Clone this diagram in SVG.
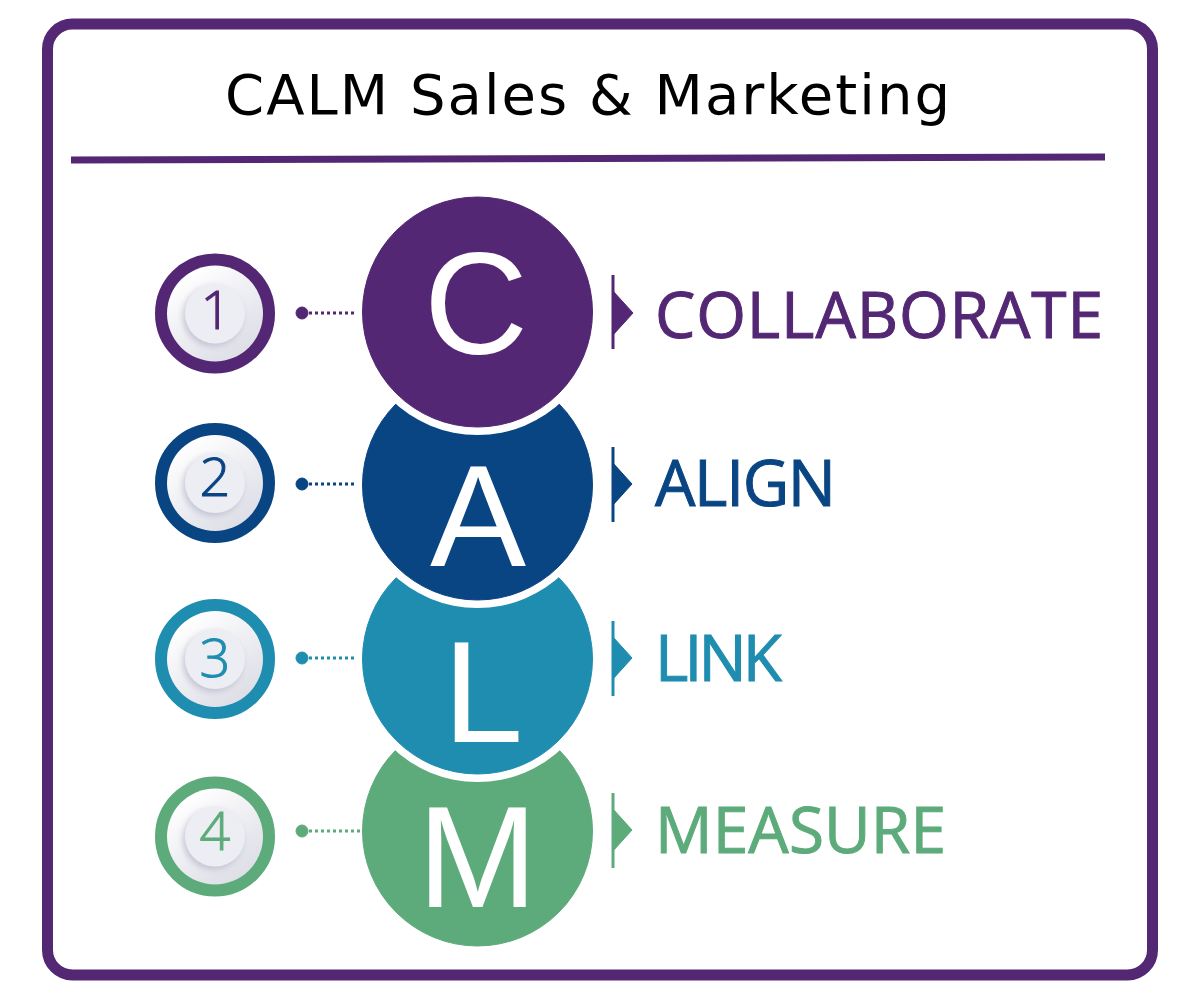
<svg xmlns="http://www.w3.org/2000/svg" width="1200" height="1000" viewBox="0 0 1200 1000">
  <style>
    .title { font-family: "DejaVu Sans", "Open Sans", sans-serif; font-size: 56px; fill: #000; }
    .big { font-family: "Liberation Sans", Arial, sans-serif; font-size: 144px; fill: #fff; text-anchor: middle; }
    .lbl { font-family: "Open Sans", "Liberation Sans", sans-serif; font-size: 64px; }
    .num { font-family: "Open Sans", "Liberation Sans", sans-serif; font-size: 54px; font-weight: 300; text-anchor: middle; }
    .halo { fill: #fff; }
    .disc { fill: url(#discGrad); }
    .inner { fill: #eceef3; filter: url(#sh); }
    .dots { stroke-width: 3; stroke-dasharray: 3 3; fill: none; }
    .bar { stroke-width: 3; }
    .c1 { fill: #532773; stroke: #532773; }
    .c2 { fill: #0a4583; stroke: #0a4583; }
    .c3 { fill: #1f8db0; stroke: #1f8db0; }
    .c4 { fill: #5dab7a; stroke: #5dab7a; }
  </style>
  <defs>
    <linearGradient id="discGrad" x1="0.2" y1="0.1" x2="0.8" y2="0.95">
      <stop offset="0" stop-color="#ffffff"/>
      <stop offset="1" stop-color="#dcdde6"/>
    </linearGradient>
    <filter id="sh" x="-30%" y="-30%" width="160%" height="160%">
      <feDropShadow dx="-2" dy="3" stdDeviation="3" flood-color="#b9bacb" flood-opacity="0.8"/>
    </filter>
  </defs>

  <rect x="47.5" y="24" width="1105" height="951" rx="25" fill="#fff" stroke="#532773" stroke-width="11"/>
  <g id="title">
    <text class="title" x="225" y="114" textLength="725">CALM Sales &amp; Marketing</text>
    <line x1="71" y1="160" x2="1105" y2="157" stroke="#532773" stroke-width="7"/>
  </g>

  <g id="connectors">
    <circle cx="302" cy="313" r="6" class="c1" stroke="none"/>
    <line x1="309" y1="313" x2="364" y2="313" class="dots c1"/>
    <circle cx="302" cy="484" r="6" class="c2" stroke="none"/>
    <line x1="309" y1="484" x2="364" y2="484" class="dots c2"/>
    <circle cx="302" cy="658" r="6" class="c3" stroke="none"/>
    <line x1="309" y1="658" x2="364" y2="658" class="dots c3"/>
    <circle cx="302" cy="831" r="6" class="c4" stroke="none"/>
    <line x1="309" y1="831" x2="364" y2="831" class="dots c4"/>
  </g>

  <g id="badge1">
    <circle cx="215" cy="313.5" r="54" fill="none" class="c1" stroke-width="12"/>
    <circle cx="215" cy="313.5" r="48" class="disc"/>
    <circle cx="215" cy="313.5" r="30" class="inner"/>
    <text class="num c1" stroke="none" x="216" y="329">1</text>
  </g>
  <g id="badge2">
    <circle cx="215" cy="483" r="54" fill="none" class="c2" stroke-width="12"/>
    <circle cx="215" cy="483" r="48" class="disc"/>
    <circle cx="215" cy="483" r="30" class="inner"/>
    <text class="num c2" stroke="none" x="215" y="496">2</text>
  </g>
  <g id="badge3">
    <circle cx="215" cy="659" r="54" fill="none" class="c3" stroke-width="12"/>
    <circle cx="215" cy="659" r="48" class="disc"/>
    <circle cx="215" cy="659" r="30" class="inner"/>
    <text class="num c3" stroke="none" x="215" y="677">3</text>
  </g>
  <g id="badge4">
    <circle cx="215" cy="836.5" r="54" fill="none" class="c4" stroke-width="12"/>
    <circle cx="215" cy="836.5" r="48" class="disc"/>
    <circle cx="215" cy="836.5" r="30" class="inner"/>
    <text class="num c4" stroke="none" x="215" y="850">4</text>
  </g>

  <g id="circleM">
    <circle cx="477.5" cy="831" r="115" class="c4" stroke="none"/>
    <text class="big" x="477.5" y="907">M</text>
  </g>
  <g id="circleL">
    <circle cx="477.5" cy="659" r="123" class="halo"/>
    <circle cx="477.5" cy="659" r="115" class="c3" stroke="none"/>
    <text class="big" x="483" y="742">L</text>
  </g>
  <g id="circleA">
    <circle cx="477.5" cy="485" r="123" class="halo"/>
    <circle cx="477.5" cy="485" r="115" class="c2" stroke="none"/>
    <text class="big" x="478" y="566">A</text>
  </g>
  <g id="circleC">
    <circle cx="477.5" cy="312" r="123" class="halo"/>
    <circle cx="477.5" cy="312" r="115" class="c1" stroke="none"/>
    <text class="big" x="476" y="354">C</text>
  </g>

  <g id="label1">
    <line x1="613" y1="275" x2="613" y2="349" class="bar c1"/>
    <polygon points="613,291 633,313 613,335" class="c1" stroke="none"/>
    <text class="lbl c1" stroke="none" x="655" y="338" textLength="448">COLLABORATE</text>
  </g>
  <g id="label2">
    <line x1="613" y1="447" x2="613" y2="522" class="bar c2"/>
    <polygon points="613,463 632,484 613,505" class="c2" stroke="none"/>
    <text class="lbl c2" stroke="none" x="655" y="506" textLength="181">ALIGN</text>
  </g>
  <g id="label3">
    <line x1="613" y1="621" x2="613" y2="696" class="bar c3"/>
    <polygon points="613,637 632,658 613,679" class="c3" stroke="none"/>
    <text class="lbl c3" stroke="none" x="655" y="681" textLength="127">LINK</text>
  </g>
  <g id="label4">
    <line x1="613" y1="793" x2="613" y2="868" class="bar c4"/>
    <polygon points="613,809 632,830 613,851" class="c4" stroke="none"/>
    <text class="lbl c4" stroke="none" x="655" y="853" textLength="291">MEASURE</text>
  </g>
</svg>
